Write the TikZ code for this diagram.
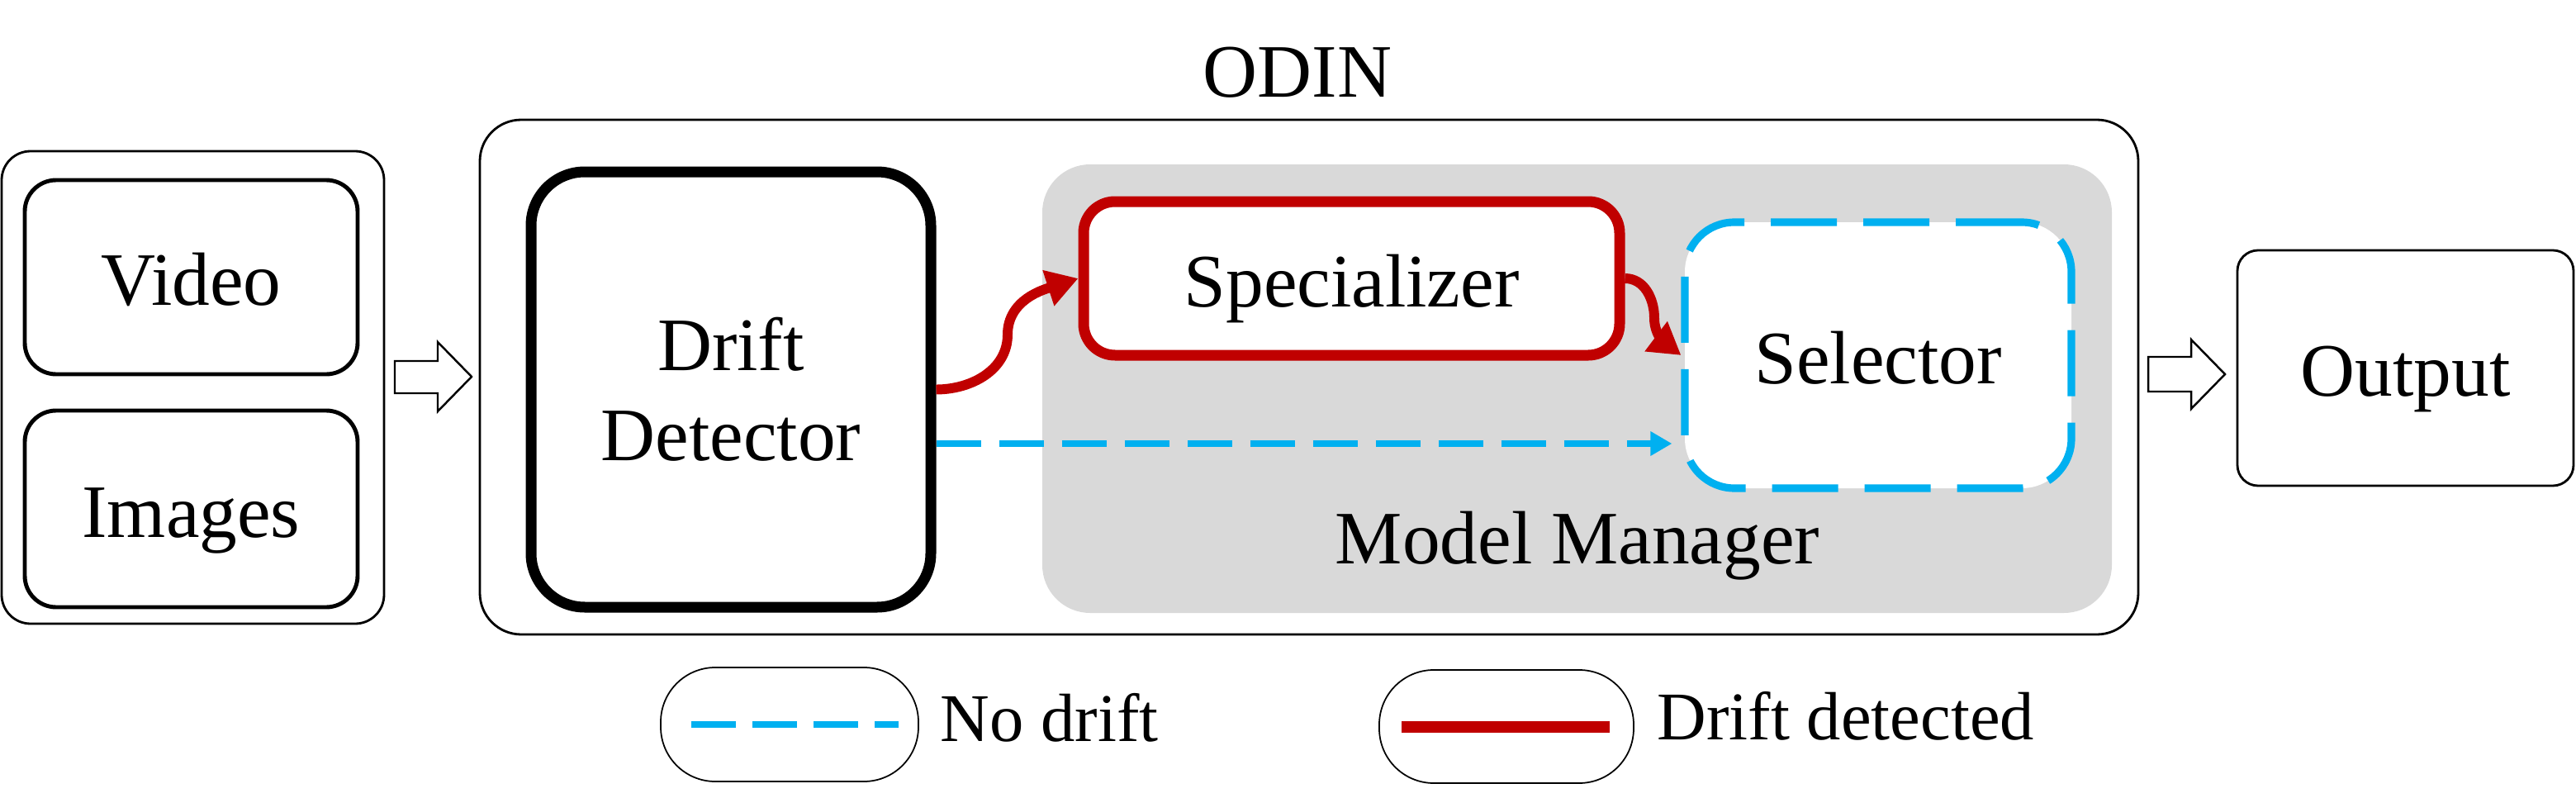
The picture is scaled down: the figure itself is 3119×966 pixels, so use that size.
\documentclass[tikz,border=0pt]{standalone}
\usepackage{fontspec}
\setmainfont{Liberation Serif}
\usetikzlibrary{arrows.meta}
\definecolor{dred}{HTML}{C00000}
\definecolor{lblue}{HTML}{00B0F0}
\definecolor{lgray}{HTML}{D9D9D9}
\begin{document}
\begin{tikzpicture}[x=0.1mm,y=0.1mm,
  mainfont/.style={font=\fontsize{26}{31}\selectfont},
  legfont/.style={font=\fontsize{23.5}{28}\selectfont},
  thinbox/.style={draw, line width=0.8pt, inner sep=0pt},
  boxtext/.style={mainfont, text height=6.8mm, text depth=0pt},
  srcbox/.style={draw, line width=1.4pt, rounded corners=3.8mm, inner sep=0pt,
    minimum width=40.3mm, boxtext},
  blockarrow/.style={draw, line width=0.7pt, fill=white},
  redarrow/.style={draw=dred, line width=3.4pt, -{Triangle[length=3.8mm,width=4.3mm]}},
  bluearrow/.style={draw=lblue, line width=2pt, dash pattern=on 5.4mm off 2.2mm,
    -{Triangle[length=2.6mm,width=2.8mm]}},
  legbox/.style={draw, line width=0.5pt, rounded corners=6.6mm, inner sep=0pt}
]
\useasboundingbox (0,0) rectangle (3119,-966);

% input group
\node[thinbox, rounded corners=3.5mm, minimum width=46.3mm, minimum height=57.2mm] (inbox) at (233.5,-469) {};
\node[srcbox, minimum height=23.5mm] (video) at (231.5,-335.5) {Video};
\node[srcbox, minimum height=23.8mm] (images) at (231.5,-616) {Images};

% ODIN frame
\node[thinbox, rounded corners=5mm, minimum width=200.8mm, minimum height=62.3mm] (odin) at (1585,-456.5) {};
\node[mainfont, anchor=base, inner sep=0pt] (odinlbl) at (1571,-117) {ODIN};

% model manager background
\node[fill=lgray, rounded corners=5.8mm, minimum width=129.5mm, minimum height=54.3mm, inner sep=0pt] (mm) at (1909.5,-470.5) {};
\node[mainfont, anchor=base, inner sep=0pt] (mmlbl) at (1910,-682) {Model Manager};

% drift detector
\node[draw, line width=3.7pt, fill=white, rounded corners=6.5mm, minimum width=48.4mm,
  minimum height=52.7mm, inner sep=0pt, align=center, mainfont] (dd) at (885,-471.5) {Drift\\Detector};

% specializer
\node[draw=dred, line width=3.7pt, fill=white, rounded corners=3.8mm, minimum width=64.9mm,
  minimum height=18.6mm, inner sep=0pt, boxtext] (sp) at (1636.5,-337) {Specializer};

% selector
\node[draw=lblue, line width=2.6pt, dash pattern=on 8mm off 3.2mm, fill=white, rounded corners=6mm,
  minimum width=46.8mm, minimum height=32.2mm, inner sep=0pt, boxtext] (sel) at (2274,-430) {Selector};

% output
\node[thinbox, rounded corners=2.5mm, minimum width=40.7mm, minimum height=28.5mm, boxtext] (out) at (2912.5,-445.5) {Output};

% block arrows
\draw[blockarrow] (478,-437) -- (530,-437) -- (530,-414) -- (571,-456) -- (530,-498) -- (530,-476) -- (478,-476) -- cycle;
\draw[blockarrow] (2601,-432) -- (2653,-432) -- (2653,-411) -- (2694,-453) -- (2653,-495) -- (2653,-474) -- (2601,-474) -- cycle;

% connectors
\coordinate (m1) at (1220,-405);
\coordinate (m2) at (2003,-385);
\draw[redarrow] (dd.east) to[out=0,in=-90] (m1) to[out=90,in=198] (sp.west);
\draw[redarrow] (sp.east) to[out=0,in=90] (m2) to[out=-90,in=143] (sel.west);
\coordinate (b0) at ([yshift=-6.55mm]dd.east);
\draw[bluearrow, shorten >=1.1mm] (b0) -- (b0 -| sel.west);

% legend
\node[legbox, minimum width=31.2mm, minimum height=13.8mm] (lg1) at (956,-877) {};
\draw[lblue, line width=2pt, dash pattern=on 5.4mm off 2mm] ([xshift=3.8mm]lg1.west) -- ([xshift=-2.5mm]lg1.east);
\node[legfont, anchor=base west, inner sep=0pt] (nd) at (1138,-897) {No drift};
\node[legbox, minimum width=30.8mm, minimum height=13.7mm] (lg2) at (1824,-879.5) {};
\draw[dred, line width=1.4mm] ([xshift=2.8mm]lg2.west) -- ([xshift=-3.0mm]lg2.east);
\node[legfont, anchor=base west, inner sep=0pt] (dt) at (2006,-895) {Drift detected};
\end{tikzpicture}
\end{document}
